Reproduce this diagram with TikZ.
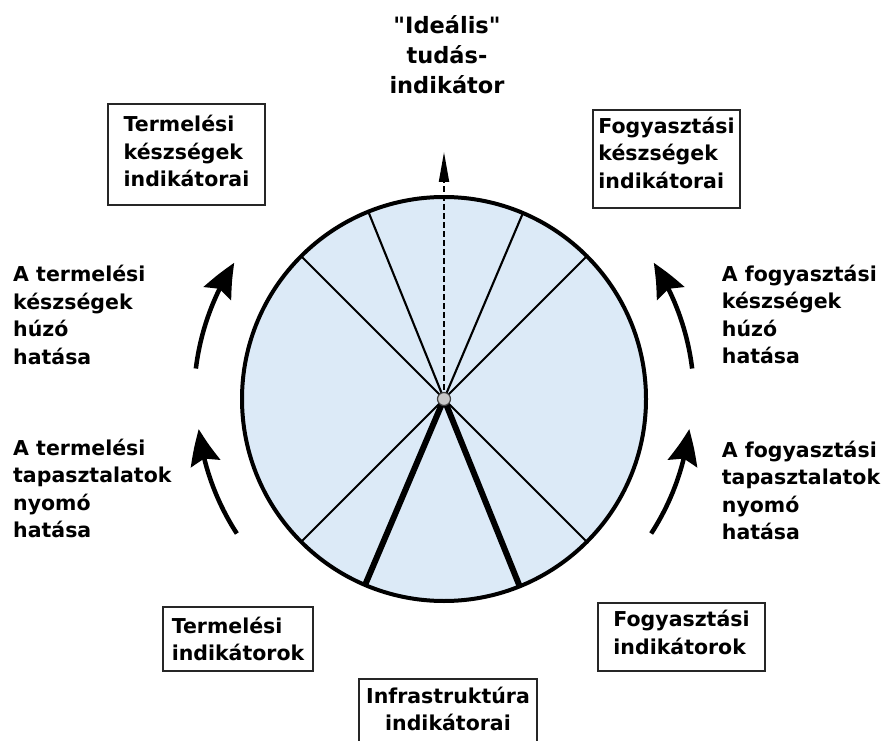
\documentclass[tikz,border=0pt]{standalone}
\usepackage{fontspec}
\newfontfamily\labfont{DejaVu Sans}
\usetikzlibrary{arrows.meta,bending,calc}
\definecolor{wheelblue}{RGB}{220,234,247}
% invisible struts that fix the height of a first line and the depth of a last line
\newcommand\firstline[1]{\rule{0pt}{#1pt}}
\newcommand\lastline[1]{\rule[-#1pt]{0pt}{#1pt}}

\begin{document}
\begin{tikzpicture}[x=1pt,y=1pt,
  txt/.style={font=\labfont\bfseries\fontsize{20.5}{27.5}\selectfont, inner sep=0pt, text=black},
  lbox/.style={txt, draw=black!85, line width=1.3pt, align=left},
  cbox/.style={txt, draw=black!85, line width=1.3pt, align=center},
  note/.style={txt, align=left, anchor=north west},
  spoke/.style={line width=2.1pt},
  heavyspoke/.style={line width=6pt},
  flow/.style={line width=4.5pt, -{Stealth[length=35pt,width=30pt,inset=5pt,bend]}},
]
\useasboundingbox (0,0) rectangle (885,740);

% the wheel
\coordinate (c) at (444,341);
\node (wheel) [circle, draw, line width=4pt, fill=wheelblue, minimum size=404pt,
  inner sep=0pt, outer sep=0pt] at (c) {};
\foreach \a in {45,67.5,112.5,135,225,315}
  \draw[spoke] (c) -- (wheel.\a);
\foreach \a in {247.5,292.5}
  \draw[heavyspoke] (c) -- (wheel.\a);
\coordinate (idealtip) at (444,588);
\draw[line width=2pt, dash pattern=on 6pt off 3pt, -{Triangle[length=30pt,width=10pt]}]
  (c) -- (idealtip);
\node (hub) [circle, draw=black!75, line width=1.2pt, fill=black!22, minimum size=13pt,
  inner sep=0pt] at (c) {};

% ideal indicator
\node (ideal) [txt, font=\labfont\bfseries\fontsize{22.5}{30}\selectfont, align=center,
  anchor=north] at (447,726) {\firstline{19}"Ideális"\\tudás-\\indikátor};

% indicator boxes
\node (tlbox) [lbox, minimum width=157pt, minimum height=101pt] at (186.5,585.5)
  {\firstline{18}Termelési\\készségek\\indikátorai\lastline{8.6}};
\node (trbox) [lbox, minimum width=147pt, minimum height=98pt] at (666.5,581)
  {\firstline{18}Fogyasztási\\készségek\\indikátorai\lastline{14.4}};
\node (blbox) [lbox, minimum width=150pt, minimum height=64pt] at (238,101)
  {\firstline{18}Termelési\\indikátorok\lastline{1.9}};
\node (brbox) [lbox, minimum width=167pt, minimum height=68pt] at (681.5,103)
  {\firstline{18}Fogyasztási\\indikátorok\lastline{11.1}};
\node (infra) [cbox, minimum width=178pt, minimum height=70pt] at (448,26)
  {\firstline{18}Infrastruktúra\\indikátorai\lastline{11.9}};

% side notes
\node (pullprod) [note] at (13,476.3) {\firstline{18}A termelési\\készségek\\húzó\\hatása};
\node (pushprod) [note] at (13,303) {\firstline{18}A termelési\\tapasztalatok\\nyomó\\hatása};
\node (pullcons) [note] at (721.7,477) {\firstline{18}A fogyasztási\\készségek\\húzó\\hatása};
\node (pushcons) [note] at (721.7,301) {\firstline{18}A fogyasztási\\tapasztalatok\\nyomó\\hatása};

% curved effect arrows around the wheel
\coordinate (pullprodtail) at ($(c)+(173:250)$);
\coordinate (pushprodtail) at ($(c)+(213:247)$);
\coordinate (pullconstail) at ($(c)+(7:250)$);
\coordinate (pushconstail) at ($(c)+(-33:247)$);
\draw[flow] (pullprodtail) arc[start angle=173, end angle=147, radius=250pt];
\draw[flow] (pushprodtail) arc[start angle=213, end angle=187, radius=247pt];
\draw[flow] (pullconstail) arc[start angle=7, end angle=33, radius=250pt];
\draw[flow] (pushconstail) arc[start angle=-33, end angle=-7, radius=247pt];
\end{tikzpicture}
\end{document}
